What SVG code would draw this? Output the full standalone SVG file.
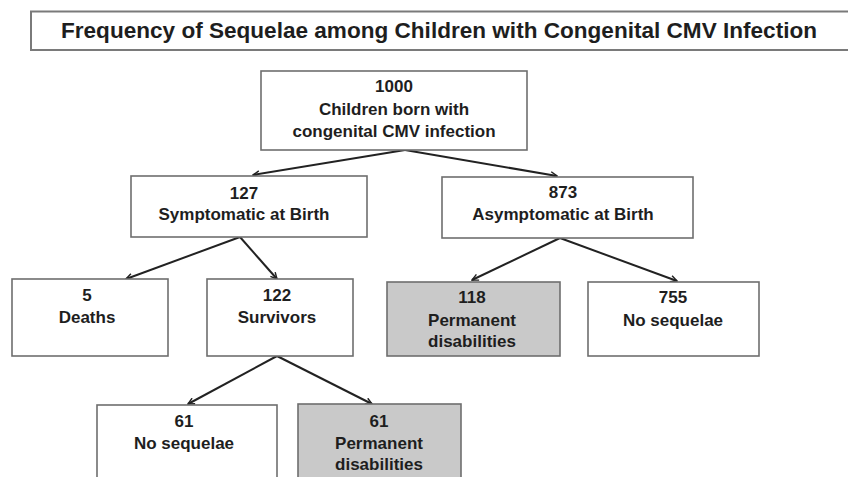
<svg xmlns="http://www.w3.org/2000/svg" width="848" height="477" viewBox="0 0 848 477">
<style>
  .box { fill: #ffffff; stroke: #6e6e6e; stroke-width: 1.6; }
  .gray { fill: #c9c9c9; }
  .t { font-family: "Liberation Sans", Arial, sans-serif; font-weight: bold; font-size: 17px; fill: #1e1e1e; text-anchor: middle; }
  .title { font-family: "Liberation Sans", Arial, sans-serif; font-weight: bold; font-size: 21.5px; fill: #1e1e1e; }
  .c { fill: none; stroke: #222222; stroke-width: 2; marker-end: url(#arr); }
</style>
<defs>
  <marker id="arr" viewBox="0 0 10 10" refX="9" refY="5" markerWidth="8" markerHeight="8" orient="auto" markerUnits="userSpaceOnUse">
    <path d="M1,1 L9,5 L1,9" fill="none" stroke="#222222" stroke-width="1.8"/>
  </marker>
</defs>
<rect width="848" height="477" fill="#ffffff"/>

<g id="title">
  <rect x="31" y="11.5" width="830" height="38.5" fill="#ffffff" stroke="#7a7a7a" stroke-width="2"/>
  <text class="title" x="61" y="38" textLength="756" lengthAdjust="spacingAndGlyphs">Frequency of Sequelae among Children with Congenital CMV Infection</text>
</g>

<g id="connectors">
  <path class="c" d="M405,150 L253,175"/>
  <path class="c" d="M405,150 L557,176"/>
  <path class="c" d="M240,237 L126,279"/>
  <path class="c" d="M240,237 L277,279"/>
  <path class="c" d="M560,238 L472,280"/>
  <path class="c" d="M560,238 L677,281"/>
  <path class="c" d="M277,356 L188,404"/>
  <path class="c" d="M277,356 L372,404"/>
</g>

<g id="n1000">
  <rect class="box" x="261" y="71" width="266" height="79"/>
  <text class="t" x="394" y="92">1000</text>
  <text class="t" x="394" y="115">Children born with</text>
  <text class="t" x="394" y="137">congenital CMV infection</text>
</g>

<g id="n127">
  <rect class="box" x="131" y="176" width="236" height="61"/>
  <text class="t" x="244" y="199">127</text>
  <text class="t" x="244" y="220">Symptomatic at Birth</text>
</g>

<g id="n873">
  <rect class="box" x="442" y="177" width="251" height="61"/>
  <text class="t" x="563" y="198">873</text>
  <text class="t" x="563" y="220">Asymptomatic at Birth</text>
</g>

<g id="n5">
  <rect class="box" x="12" y="279" width="156" height="77"/>
  <text class="t" x="87" y="301">5</text>
  <text class="t" x="87" y="323">Deaths</text>
</g>

<g id="n122">
  <rect class="box" x="207" y="279" width="146" height="77"/>
  <text class="t" x="277" y="301">122</text>
  <text class="t" x="277" y="323">Survivors</text>
</g>

<g id="n118">
  <rect class="box gray" x="387" y="282" width="173" height="74"/>
  <text class="t" x="472" y="303">118</text>
  <text class="t" x="472" y="326">Permanent</text>
  <text class="t" x="472" y="347">disabilities</text>
</g>

<g id="n755">
  <rect class="box" x="588" y="282" width="171" height="74"/>
  <text class="t" x="673" y="303">755</text>
  <text class="t" x="673" y="326">No sequelae</text>
</g>

<g id="n61a">
  <rect class="box" x="97" y="405" width="180" height="80"/>
  <text class="t" x="184" y="427">61</text>
  <text class="t" x="184" y="449">No sequelae</text>
</g>

<g id="n61b">
  <rect class="box gray" x="298" y="404" width="163" height="80"/>
  <text class="t" x="379" y="427">61</text>
  <text class="t" x="379" y="449">Permanent</text>
  <text class="t" x="379" y="470">disabilities</text>
</g>
</svg>
